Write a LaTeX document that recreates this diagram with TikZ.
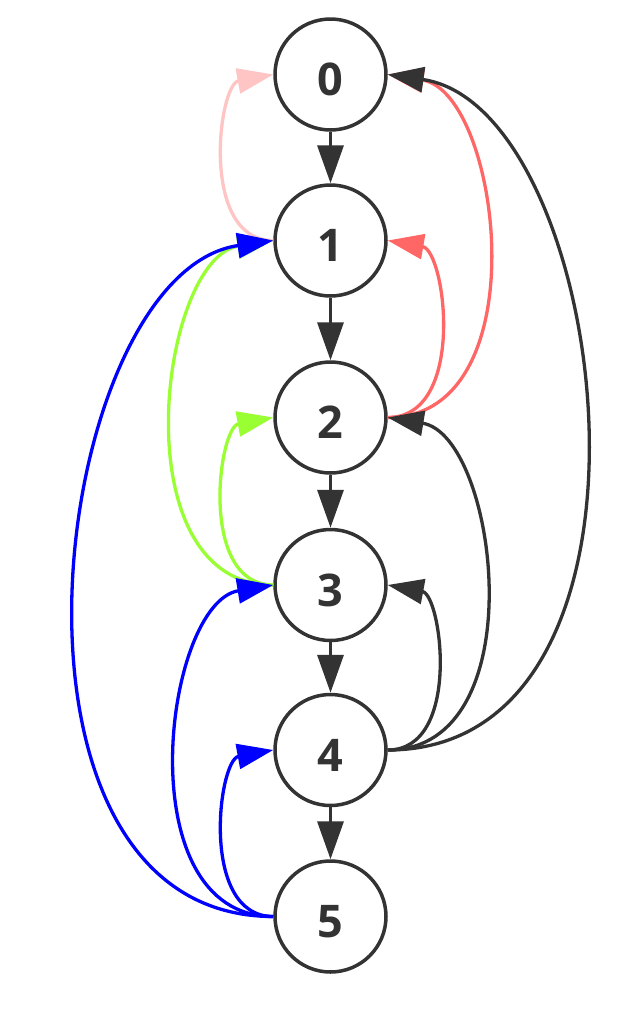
\documentclass[tikz,border=0pt]{standalone}
\usepackage{fontspec}
\setmainfont{Open Sans}
\usetikzlibrary{arrows.meta}
\definecolor{ink}{HTML}{333333}
\definecolor{pinkc}{HTML}{FFC4C4}
\definecolor{redc}{HTML}{FF6666}
\definecolor{greenc}{HTML}{99FF33}
\definecolor{bluec}{HTML}{0000FF}
\begin{document}
\begin{tikzpicture}[x=1pt,y=-1pt,
  vtx/.style={circle,draw=ink,line width=3.5pt,minimum size=111pt,inner sep=0pt,
    font=\fontsize{45}{45}\selectfont\bfseries,text=ink,text height=42pt,text depth=0pt,fill=white},
  arr/.style={line width=3.3pt,-{Triangle[length=36pt,width=25pt]}},
  varr/.style={line width=3.5pt,ink,-{Triangle[length=38pt,width=26pt]}}
]
\useasboundingbox (0,0) rectangle (635,1010);
\node[vtx] (n0) at (330.5,74.5) {0};
\node[vtx] (n1) at (330.5,240.5) {1};
\node[vtx] (n2) at (330.5,417.5) {2};
\node[vtx] (n3) at (330.5,585) {3};
\node[vtx] (n4) at (330.5,750) {4};
\node[vtx] (n5) at (330.5,916.5) {5};
% straight edges
\draw[varr] (n0) -- (n1);
\draw[varr] (n1) -- (n2);
\draw[varr] (n2) -- (n3);
\draw[varr] (n3) -- (n4);
\draw[varr] (n4) -- (n5);
% pink
\draw[arr,pinkc] (n1.west) .. controls +(-74,0) and +(-55,10) .. (n0.west);
% red
\draw[arr,redc] (n2.east) .. controls +(79,0) and +(58,10) .. (n1.east);
\draw[arr,redc] (n2.east) .. controls +(153,0) and +(113,18) .. (n0.east);
% green
\draw[arr,greenc] (n3.west) .. controls +(-75,0) and +(-55,10) .. (n2.west);
\draw[arr,greenc] (n3.west) .. controls +(-154,0) and +(-114,18) .. (n1.west);
% black
\draw[arr,ink] (n4.east) .. controls +(74,0) and +(54,10) .. (n3.east);
\draw[arr,ink] (n4.east) .. controls +(149,0) and +(110,18) .. (n2.east);
\draw[arr,ink] (n4.east) .. controls +(302,0) and +(223,32) .. (n0.east);
% blue
\draw[arr,bluec] (n5.west) .. controls +(-74,0) and +(-55,10) .. (n4.west);
\draw[arr,bluec] (n5.west) .. controls +(-148,0) and +(-109,18) .. (n3.west);
\draw[arr,bluec] (n5.west) .. controls +(-302,0) and +(-223,32) .. (n1.west);
\end{tikzpicture}
\end{document}
